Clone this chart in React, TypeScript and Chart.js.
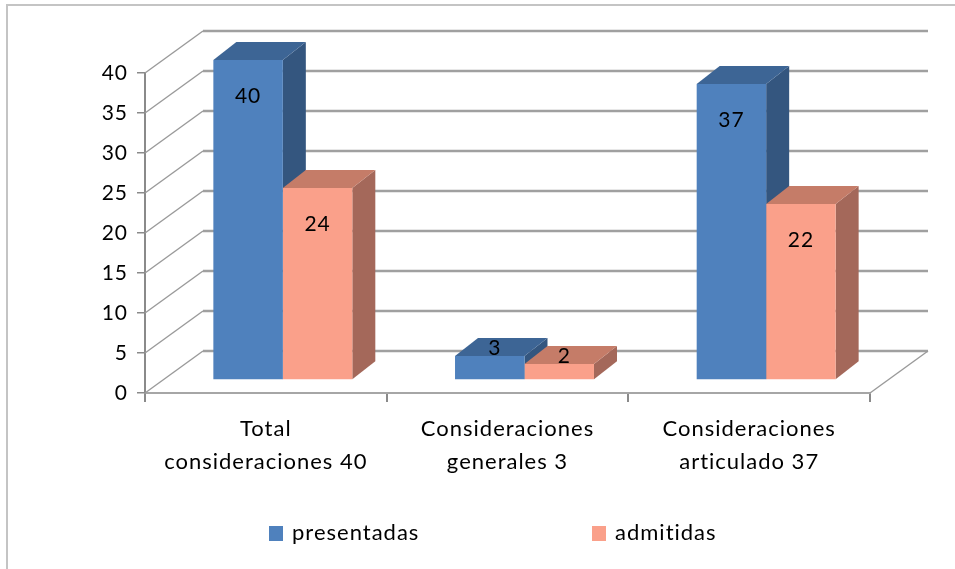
import React, { useEffect, useRef } from 'react';
import { Chart, registerables } from 'chart.js';

Chart.register(...registerables);

// ---- data ----
const categories: string[][] = [
  ['Total', 'consideraciones 40'],
  ['Consideraciones', 'generales 3'],
  ['Consideraciones', 'articulado 37'],
];
const presentadas: number[] = [40, 3, 37];
const admitidas: number[] = [24, 2, 22];
const seriesNames: string[] = ['presentadas', 'admitidas'];
const yMin = 0;
const yMax = 40;
const yStep = 5;

// ---- style ----
const FONT = 'Lato, "Open Sans", sans-serif';
const FRONT = ['#4F81BD', '#FAA08A'];
const TOP = ['#3D6595', '#C57C68'];
const SIDE = ['#34567F', '#A4685A'];
const WALL_DX = 58;
const WALL_DY = -42;
const BAR_OX = 17;
const BAR_OY = -13;
const BAR_DX = 23;
const BAR_DY = -18;
const GRID = '#a0a0a0';

const threeD = {
  id: 'threeD',
  beforeDraw(chart: any) {
    const ctx = chart.ctx;
    ctx.letterSpacing = '1px';
    ctx.save();
    ctx.fillStyle = '#ffffff';
    ctx.fillRect(0, 0, chart.width, chart.height);
    ctx.fillStyle = '#c4c4c4';
    ctx.fillRect(7, 4, chart.width - 7, 2);
    ctx.fillRect(6, 4, 2, chart.height - 4);
    ctx.restore();
  },
  beforeDatasetsDraw(chart: any) {
    const ctx = chart.ctx;
    const ys = chart.scales.y;
    const area = chart.chartArea;
    ctx.save();
    // back wall gridlines + side wall slants
    ys.ticks.forEach((t: any) => {
      const py = ys.getPixelForValue(t.value);
      ctx.strokeStyle = GRID;
      ctx.lineWidth = 2.4;
      ctx.beginPath();
      ctx.moveTo(area.left + WALL_DX, py + WALL_DY);
      ctx.lineTo(area.right + WALL_DX, py + WALL_DY);
      ctx.stroke();
      ctx.lineWidth = 1.4;
      ctx.strokeStyle = '#9a9a9a';
      ctx.beginPath();
      ctx.moveTo(area.left, py);
      ctx.lineTo(area.left + WALL_DX, py + WALL_DY);
      ctx.stroke();
    });
    // floor right edge
    const p0 = ys.getPixelForValue(yMin);
    ctx.lineWidth = 1.4;
    ctx.strokeStyle = '#9a9a9a';
    ctx.beginPath();
    ctx.moveTo(area.right, p0);
    ctx.lineTo(area.right + WALL_DX, p0 + WALL_DY);
    ctx.stroke();
    ctx.restore();

    // bars: translate into bar plane; restored after datasets drawn
    ctx.save();
    ctx.translate(BAR_OX, BAR_OY);
    [0, 1].forEach((di) => {
      const meta = chart.getDatasetMeta(di);
      meta.data.forEach((bar: any) => {
        const l = bar.x - bar.width / 2;
        const r = bar.x + bar.width / 2;
        const top = bar.y;
        const base = bar.base;
        ctx.fillStyle = SIDE[di];
        ctx.beginPath();
        ctx.moveTo(r, top);
        ctx.lineTo(r + BAR_DX, top + BAR_DY);
        ctx.lineTo(r + BAR_DX, base + BAR_DY);
        ctx.lineTo(r, base);
        ctx.closePath();
        ctx.fill();
        ctx.fillStyle = TOP[di];
        ctx.beginPath();
        ctx.moveTo(l, top);
        ctx.lineTo(l + BAR_DX, top + BAR_DY);
        ctx.lineTo(r + BAR_DX, top + BAR_DY);
        ctx.lineTo(r, top);
        ctx.closePath();
        ctx.fill();
      });
    });
  },
  afterDatasetsDraw(chart: any) {
    const ctx = chart.ctx;
    ctx.fillStyle = '#000';
    ctx.font = `21px ${FONT}`;
    ctx.textAlign = 'center';
    ctx.textBaseline = 'middle';
    [0, 1].forEach((di) => {
      const meta = chart.getDatasetMeta(di);
      const vals = chart.data.datasets[di].data;
      meta.data.forEach((bar: any, i: number) => {
        const h = bar.base - bar.y;
        let x = bar.x;
        let y = bar.y + 36;
        if (h < 60) {
          x = bar.x + 5;
          y = bar.y - 8;
        }
        ctx.fillText(String(vals[i]), x, y);
      });
    });
    ctx.restore();
  },
  afterDraw(chart: any) {
    const ctx = chart.ctx;
    ctx.save();
    ctx.font = `22px ${FONT}`;
    ctx.textAlign = 'left';
    ctx.textBaseline = 'middle';
    const starts = [269, 592];
    const cy = 533;
    seriesNames.forEach((name, i) => {
      ctx.fillStyle = FRONT[i];
      ctx.fillRect(starts[i], cy - 7, 14, 15);
      ctx.fillStyle = '#000';
      ctx.fillText(name, starts[i] + 23, cy);
    });
    ctx.restore();
  },
};

export default function App() {
  const ref = useRef<HTMLCanvasElement | null>(null);
  useEffect(() => {
    document.body.style.margin = '0';
    const canvas = ref.current!;
    const chart = new Chart(canvas, {
      type: 'bar',
      data: {
        labels: categories,
        datasets: [
          {
            label: seriesNames[0],
            data: presentadas,
            backgroundColor: FRONT[0],
            categoryPercentage: 0.575,
            barPercentage: 1,
            clip: false as any,
          },
          {
            label: seriesNames[1],
            data: admitidas,
            backgroundColor: FRONT[1],
            categoryPercentage: 0.575,
            barPercentage: 1,
            clip: false as any,
          },
        ],
      },
      options: {
        responsive: false,
        animation: false,
        devicePixelRatio: 1,
        layout: { padding: { left: 85, right: 85, top: 73, bottom: 0 } },
        plugins: { legend: { display: false }, tooltip: { enabled: false } },
        scales: {
          x: {
            offset: true,
            grid: {
              offset: true,
              drawOnChartArea: false,
              tickLength: 9,
              color: '#8a8a8a',
              lineWidth: 2,
            },
            border: { display: true, color: '#a6a6a6', width: 2 },
            ticks: {
              color: '#000',
              padding: 10,
              maxRotation: 0,
              autoSkip: false,
              font: { family: FONT, size: 22, lineHeight: 1.5 },
            },
            afterFit: (s: any) => {
              s.height = 176;
            },
          },
          y: {
            min: yMin,
            max: yMax,
            ticks: {
              stepSize: yStep,
              color: '#000',
              padding: 9,
              font: { family: FONT, size: 21 },
            },
            grid: {
              drawOnChartArea: false,
              tickLength: 8,
              color: '#8a8a8a',
              lineWidth: 1.5,
            },
            border: { display: true, color: '#8a8a8a', width: 2 },
            afterFit: (s: any) => {
              s.width = 60;
            },
          },
        },
      },
      plugins: [threeD],
    });
    return () => chart.destroy();
  }, []);
  return (
    <div style={{ width: 955, height: 569 }}>
      <canvas ref={ref} width={955} height={569} />
    </div>
  );
}
